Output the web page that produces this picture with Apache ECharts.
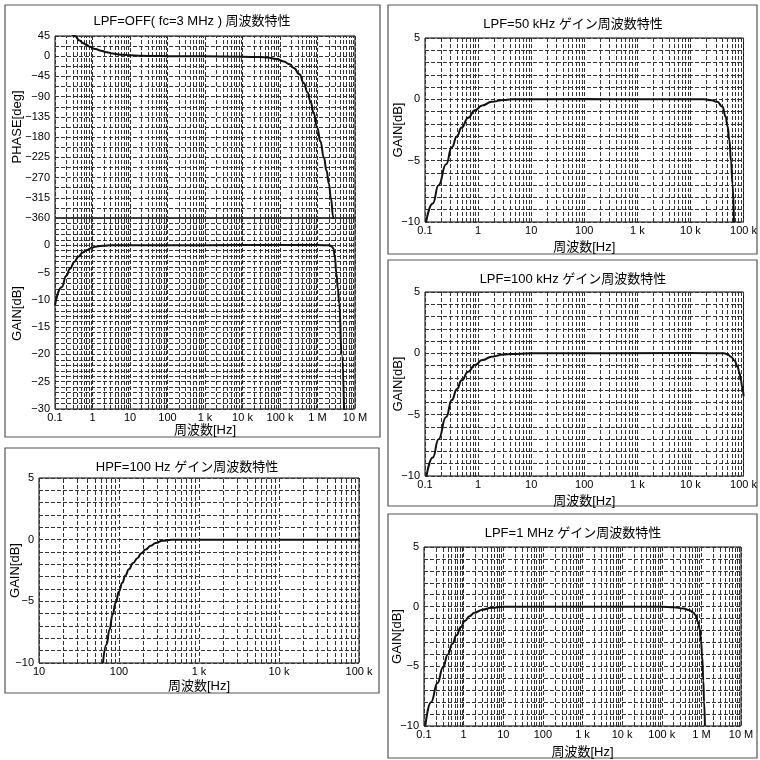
<!DOCTYPE html>
<html>
<head>
<meta charset="utf-8">
<script src="https://cdn.jsdelivr.net/npm/echarts@6/dist/echarts.min.js"></script>
<style>html,body{margin:0;padding:0;background:#fff}#chart{width:760px;height:760px}</style>
</head>
<body>
<div id="chart"></div>
<script>
// decade ticks of the frequency axes
var decades = [0.1, 1, 10, 100, 1e3, 1e4, 1e5, 1e6, 1e7];
var decadeLabels = ['0.1', '1', '10', '100', '1 k', '10 k', '100 k', '1 M', '10 M'];

// LPF=OFF (fc=3 MHz) phase
var offPhaseHz = [0.25, 0.34, 0.45, 0.57, 0.7, 0.85, 1.2, 1.7, 2.4, 3.5, 5, 6.5, 10, 20, 50, 100, 1000, 1e4, 3e4, 4.6e4, 8e4, 1.26e5, 1.8e5, 2.34e5, 3.3e5, 4.33e5, 5.4e5, 6.5e5, 8e5, 9.8e5, 1.2e6, 1.47e6, 1.75e6, 2e6, 2.3e6, 2.6e6, 2.7e6];
var offPhaseDeg = [56, 45, 35, 29, 25, 21, 16, 12, 9, 6, 4, 3, 2, 1, 0.5, 0, -0.3, -1, -2, -3, -6, -11.6, -18, -26, -40, -60, -80, -101, -128, -159, -190, -225, -255, -283, -318, -356, -365];

// LPF=OFF (fc=3 MHz) gain
var offGainHz = [0.1, 0.15, 0.2, 0.25, 0.33, 0.42, 0.55, 0.7, 1, 1.3, 2, 3, 100, 1e4, 1e6, 2.1e6, 2.4e6, 2.65e6, 2.9e6, 3.2e6, 3.5e6, 3.8e6, 4.4e6, 5.1e6];
var offGainDb = [-11, -7.7, -5.6, -4.3, -3.0, -2.1, -1.3, -0.9, -0.4, -0.2, -0.1, 0, 0, 0.05, 0.05, 0, -0.2, -0.6, -2.1, -5.2, -8, -10.7, -19.9, -30];

// HPF=100 Hz gain
var hpfHz = [63, 70, 76, 83, 91, 100, 110, 120, 133, 150, 170, 190, 215, 250, 287, 350, 450, 1000, 1e5];
var hpfDb = [-10, -8.5, -7.3, -6.1, -5.1, -4.2, -3.5, -2.9, -2.4, -1.9, -1.5, -1.1, -0.8, -0.5, -0.27, -0.08, 0, 0, 0];

// LPF=50 kHz gain
var lpf50Hz = [0.105, 0.14, 0.18, 0.25, 0.32, 0.4, 0.49, 0.65, 0.87, 1.2, 1.8, 3, 4.2, 100, 1000, 1.8e4, 2.5e4, 3.2e4, 4e4, 4.6e4, 5e4, 5.4e4, 5.8e4, 6.2e4, 6.6e4];
var lpf50Db = [-10, -8.5, -7.0, -5.3, -3.9, -3.0, -2.3, -1.5, -0.9, -0.5, -0.2, -0.05, 0, 0.03, 0, 0, -0.08, -0.2, -0.6, -1.4, -2.2, -3.3, -5, -6.9, -10];

// LPF=100 kHz gain
var lpf100Hz = [0.107, 0.14, 0.18, 0.25, 0.32, 0.4, 0.49, 0.65, 0.87, 1.2, 1.8, 3, 4.2, 10, 1e4, 4.3e4, 5e4, 5.8e4, 6.8e4, 7.7e4, 8.4e4, 8.9e4, 9.5e4, 1e5];
var lpf100Db = [-10, -8.5, -7.0, -5.2, -3.8, -2.9, -2.2, -1.5, -0.95, -0.55, -0.27, -0.1, -0.05, 0, 0.02, 0, -0.08, -0.27, -0.6, -1.1, -1.6, -2.2, -2.8, -3.5];

// LPF=1 MHz gain
var lpf1mHz = [0.108, 0.15, 0.22, 0.3, 0.4, 0.52, 0.66, 0.85, 1.07, 1.4, 1.9, 3, 5, 10, 1e5, 2e5, 3.55e5, 5e5, 6.3e5, 7.1e5, 8.3e5, 9.1e5, 9.8e5, 1.05e6, 1.12e6, 1.17e6, 1.23e6];
var lpf1mDb = [-10, -8.0, -6.4, -5.1, -4.0, -3.1, -2.4, -1.7, -1.2, -0.8, -0.5, -0.25, -0.1, 0, 0, -0.05, -0.15, -0.3, -0.5, -0.7, -1.3, -1.9, -2.9, -4.2, -6.2, -8, -10];

var FONT = "'Liberation Sans', 'Noto Sans CJK JP', sans-serif";
var dash = {color: '#333', width: 1, type: [4, 2]};

function zip(xs, ys) {
    return xs.map(function (x, i) { return [x, ys[i]]; });
}

// 2..9 times each decade between min and max
function minorLines(min, max) {
    var out = [];
    decades.forEach(function (d) {
        for (var m = 2; m <= 9; m++) {
            var v = m * d;
            if (v > min && v < max) out.push({xAxis: v});
        }
    });
    return out;
}

function decadeLabel(v) {
    var i = decades.indexOf(decades.reduce(function (a, b) {
        return Math.abs(Math.log10(b) - Math.log10(v)) < Math.abs(Math.log10(a) - Math.log10(v)) ? b : a;
    }));
    return decadeLabels[i];
}

function freqAxis(gi, min, max, withLabels, gap) {
    return {
        type: 'log',
        logBase: 10,
        gridIndex: gi,
        min: min,
        max: max,
        axisLine: {show: false},
        axisTick: {show: false},
        axisLabel: {
            show: withLabels,
            margin: 3,
            color: '#000',
            fontSize: 11,
            fontFamily: FONT,
            formatter: decadeLabel
        },
        splitLine: {show: true, lineStyle: dash},
        name: withLabels ? '周波数[Hz]' : '',
        nameLocation: 'middle',
        nameGap: gap,
        nameTextStyle: {color: '#000', fontSize: 13, fontFamily: FONT}
    };
}

function levelAxis(gi, min, max, step, minor, name, gap, hideMax) {
    return {
        type: 'value',
        gridIndex: gi,
        min: min,
        max: max,
        interval: step,
        axisLine: {show: false},
        axisTick: {show: false},
        axisLabel: {
            margin: 5,
            color: '#000',
            fontSize: 11,
            fontFamily: FONT,
            formatter: function (v) {
                if (hideMax && v === max) return '';
                return String(v).replace('-', '−');
            }
        },
        splitLine: {show: true, lineStyle: dash},
        minorTick: {show: false, splitNumber: minor},
        minorSplitLine: {show: true, lineStyle: dash},
        name: name,
        nameLocation: 'middle',
        nameGap: gap,
        nameMoveOverlap: false,
        nameTextStyle: {color: '#000', fontSize: 13, fontFamily: FONT}
    };
}

function curve(ai, xs, ys, min, max) {
    return {
        type: 'line',
        xAxisIndex: ai,
        yAxisIndex: ai,
        data: zip(xs, ys),
        showSymbol: false,
        smooth: 0.5,
        smoothMonotone: 'x',
        clip: true,
        z: 3,
        lineStyle: {color: '#111', width: 2},
        markLine: {
            silent: true,
            z: 1,
            symbol: 'none',
            label: {show: false},
            lineStyle: dash,
            emphasis: {disabled: true},
            animation: false,
            data: minorLines(min, max)
        }
    };
}

var grids = [
    {left: 55, top: 36, width: 300, height: 182},
    {left: 55, top: 218, width: 300, height: 191},
    {left: 39, top: 478, width: 320, height: 185},
    {left: 425, top: 38, width: 319, height: 184},
    {left: 425, top: 292, width: 319, height: 184},
    {left: 424, top: 547, width: 317, height: 184}
].map(function (g) {
    g.show = true;
    g.borderColor = '#000';
    g.borderWidth = 1;
    g.containLabel = false;
    return g;
});

var boxes = [[5, 5, 375, 432], [5, 448, 374, 245], [388, 5, 369, 249], [388, 260, 369, 246], [388, 514, 369, 244]];
var titles = [
    ['LPF=OFF( fc=3 MHz ) 周波数特性', 192, 21],
    ['HPF=100 Hz ゲイン周波数特性', 187, 467],
    ['LPF=50 kHz ゲイン周波数特性', 573, 24],
    ['LPF=100 kHz ゲイン周波数特性', 573, 279],
    ['LPF=1 MHz ゲイン周波数特性', 573, 533]
];

var graphic = boxes.map(function (b) {
    return {type: 'rect', shape: {x: b[0], y: b[1], width: b[2], height: b[3]}, style: {fill: null, stroke: '#555', lineWidth: 1.2}, silent: true};
}).concat(titles.map(function (t) {
    return {type: 'text', x: t[1], y: t[2], silent: true,
        style: {text: t[0], fill: '#000', font: '13px ' + FONT, textAlign: 'center', textVerticalAlign: 'middle'}};
}));

var myChart = echarts.init(document.getElementById('chart'));
myChart.setOption({
    animation: false,
    backgroundColor: '#fff',
    graphic: graphic,
    grid: grids,
    xAxis: [
        freqAxis(0, 0.1, 1e7, false, 0),
        freqAxis(1, 0.1, 1e7, true, 15),
        freqAxis(2, 10, 1e5, true, 17),
        freqAxis(3, 0.1, 1e5, true, 19),
        freqAxis(4, 0.1, 1e5, true, 19),
        freqAxis(5, 0.1, 1e7, true, 20)
    ],
    yAxis: [
        levelAxis(0, -360, 45, 45, 2, 'PHASE[deg]', 31, false),
        levelAxis(1, -30, 5, 5, 5, 'GAIN[dB]', 31, true),
        levelAxis(2, -10, 5, 5, 5, 'GAIN[dB]', 17, false),
        levelAxis(3, -10, 5, 5, 5, 'GAIN[dB]', 20, false),
        levelAxis(4, -10, 5, 5, 5, 'GAIN[dB]', 20, false),
        levelAxis(5, -10, 5, 5, 5, 'GAIN[dB]', 20, false)
    ],
    series: [
        curve(0, offPhaseHz, offPhaseDeg, 0.1, 1e7),
        curve(1, offGainHz, offGainDb, 0.1, 1e7),
        curve(2, hpfHz, hpfDb, 10, 1e5),
        curve(3, lpf50Hz, lpf50Db, 0.1, 1e5),
        curve(4, lpf100Hz, lpf100Db, 0.1, 1e5),
        curve(5, lpf1mHz, lpf1mDb, 0.1, 1e7)
    ]
});
</script>
</body>
</html>
